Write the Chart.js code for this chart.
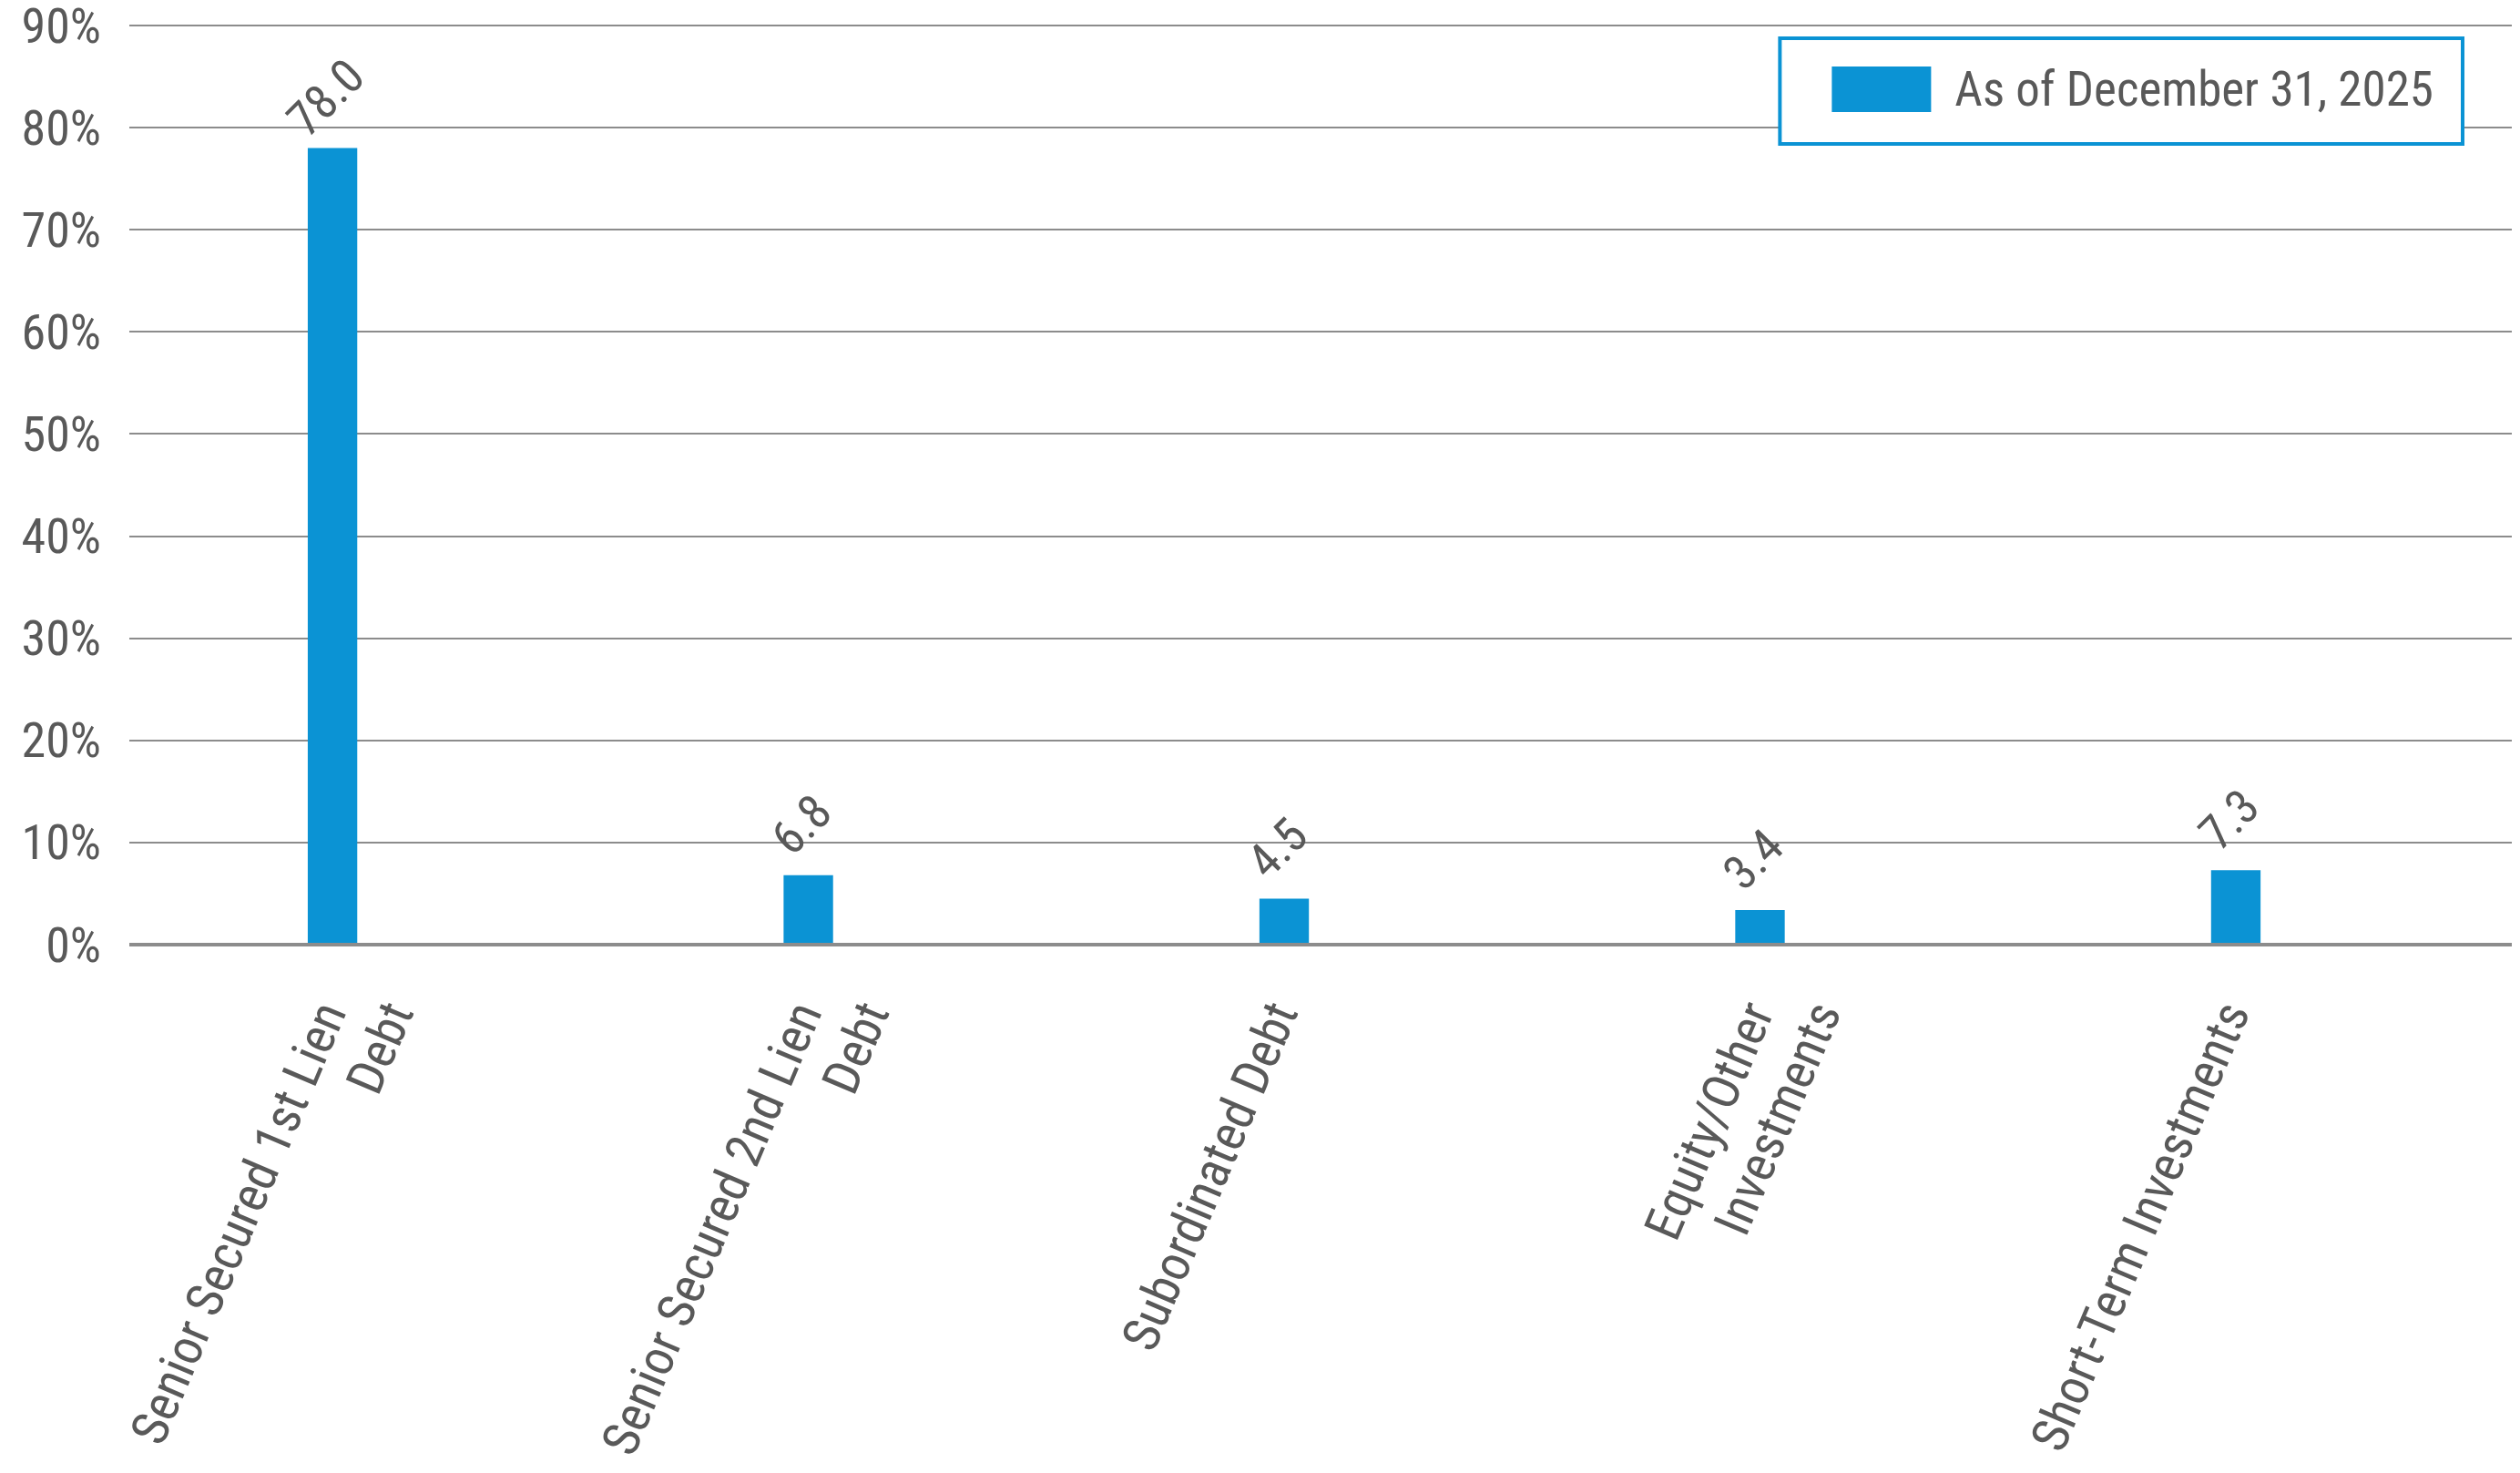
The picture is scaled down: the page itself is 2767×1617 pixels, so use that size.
<!DOCTYPE html>
<html>
<head>
<meta charset="utf-8">
<script src="https://cdn.jsdelivr.net/npm/chart.js@4.4.1/dist/chart.umd.min.js"></script>
<style>
  html, body { margin: 0; padding: 0; background: #fff; }
  #wrap { width: 2767px; height: 1617px; }
</style>
</head>
<body>
<div id="wrap"><canvas id="allocChart" width="2767" height="1617"></canvas></div>
<script>
// chart data
const categories = [
  ["Senior Secured 1st Lien", "Debt"],
  ["Senior Secured 2nd Lien", "Debt"],
  ["Subordinated Debt"],
  ["Equity/Other", "Investments"],
  ["Short-Term Investments"]
];
const allocation = [78.0, 6.8, 4.5, 3.4, 7.3];
const seriesLabel = "As of December 31, 2025";
const yTicks = [0, 10, 20, 30, 40, 50, 60, 70, 80, 90];

const FONT = "'Roboto Condensed', 'Liberation Sans Narrow', 'Arial Narrow', 'DejaVu Sans Condensed', Roboto, sans-serif";
const TEXT = "#595959";
const BLUE = "#0b93d4";
const GRID = "#8c8c8c";

// value labels above each bar, rotated
const valueLabels = {
  id: "valueLabels",
  afterDatasetsDraw(chart) {
    const ctx = chart.ctx;
    const meta = chart.getDatasetMeta(0);
    ctx.save();
    ctx.font = "53px " + FONT;
    ctx.fillStyle = TEXT;
    ctx.textAlign = "center";
    ctx.textBaseline = "middle";
    meta.data.forEach((bar, i) => {
      ctx.save();
      ctx.translate(bar.x - 4, bar.y - 52);
      ctx.rotate(-Math.PI / 4);
      ctx.fillText(allocation[i].toFixed(1), 0, 0);
      ctx.restore();
    });
    ctx.restore();
  }
};

// rotated category labels; wrapped lines end on the same height, like the original
const categoryLabels = {
  id: "categoryLabels",
  afterDraw(chart) {
    const ctx = chart.ctx;
    const xs = chart.scales.x;
    const angle = 67 * Math.PI / 180;
    const lineStep = 68 / Math.sin(angle);
    ctx.save();
    ctx.font = "56px " + FONT;
    ctx.fillStyle = TEXT;
    ctx.textAlign = "right";
    ctx.textBaseline = "middle";
    categories.forEach((lines, i) => {
      const x = xs.getPixelForValue(i) + 3;
      const y = xs.top + 68;
      lines.forEach((line, j) => {
        ctx.save();
        ctx.translate(x + j * lineStep, y);
        ctx.rotate(-angle);
        ctx.fillText(line, 0, 0);
        ctx.restore();
      });
    });
    ctx.restore();
  }
};

// boxed legend in the top right corner of the plot
const boxLegend = {
  id: "boxLegend",
  afterDraw(chart) {
    const ctx = chart.ctx;
    const area = chart.chartArea;
    const ds = chart.data.datasets[0];
    const right = area.right - 54;
    const top = area.top + 14;
    const h = 116;
    ctx.save();
    ctx.font = "53px " + FONT;
    const tw = ctx.measureText(ds.label).width;
    const w = 57 + 109 + 26 + tw + 32;
    const left = right - w;
    ctx.fillStyle = "#fff";
    ctx.fillRect(left, top, w, h);
    ctx.strokeStyle = BLUE;
    ctx.lineWidth = 4;
    ctx.strokeRect(left, top, w, h);
    ctx.fillStyle = ds.backgroundColor;
    ctx.fillRect(left + 57, top + 31, 109, 50);
    ctx.fillStyle = TEXT;
    ctx.textBaseline = "middle";
    ctx.textAlign = "left";
    ctx.fillText(ds.label, left + 57 + 109 + 26, top + 61);
    ctx.restore();
  }
};

new Chart(document.getElementById("allocChart"), {
  type: "bar",
  data: {
    datasets: [{
      label: seriesLabel,
      data: allocation.map((v, i) => ({ x: i, y: v })),
      backgroundColor: BLUE,
      borderWidth: 0,
      barPercentage: 0.104,
      categoryPercentage: 1
    }]
  },
  options: {
    responsive: false,
    animation: false,
    layout: { padding: { top: 28, right: 9, left: 0, bottom: 0 } },
    plugins: {
      legend: { display: false },
      tooltip: { enabled: false }
    },
    scales: {
      x: {
        type: "linear",
        offset: false,
        min: -0.427,
        max: 4.58,
        grid: { display: false },
        border: { display: false },
        afterBuildTicks: (axis) => {
          axis.ticks = categories.map((_, i) => ({ value: i }));
        },
        afterFit: (axis) => {
          axis.height = 580;
          axis.paddingLeft = 0;
          axis.paddingRight = 0;
        },
        ticks: { display: false }
      },
      y: {
        min: 0,
        max: 90,
        afterBuildTicks: (axis) => {
          axis.ticks = yTicks.map(v => ({ value: v }));
        },
        afterFit: (axis) => {
          axis.width = 142;
          axis.paddingTop = 0;
          axis.paddingBottom = 0;
        },
        grid: {
          color: GRID,
          lineWidth: (c) => (c.tick && c.tick.value === 0 ? 4 : 2),
          drawTicks: false
        },
        border: { display: false },
        ticks: {
          padding: 31,
          labelOffset: 5,
          color: TEXT,
          font: { family: FONT, size: 54 },
          callback: (v) => v + "%"
        }
      }
    }
  },
  plugins: [valueLabels, categoryLabels, boxLegend]
});
</script>
</body>
</html>
